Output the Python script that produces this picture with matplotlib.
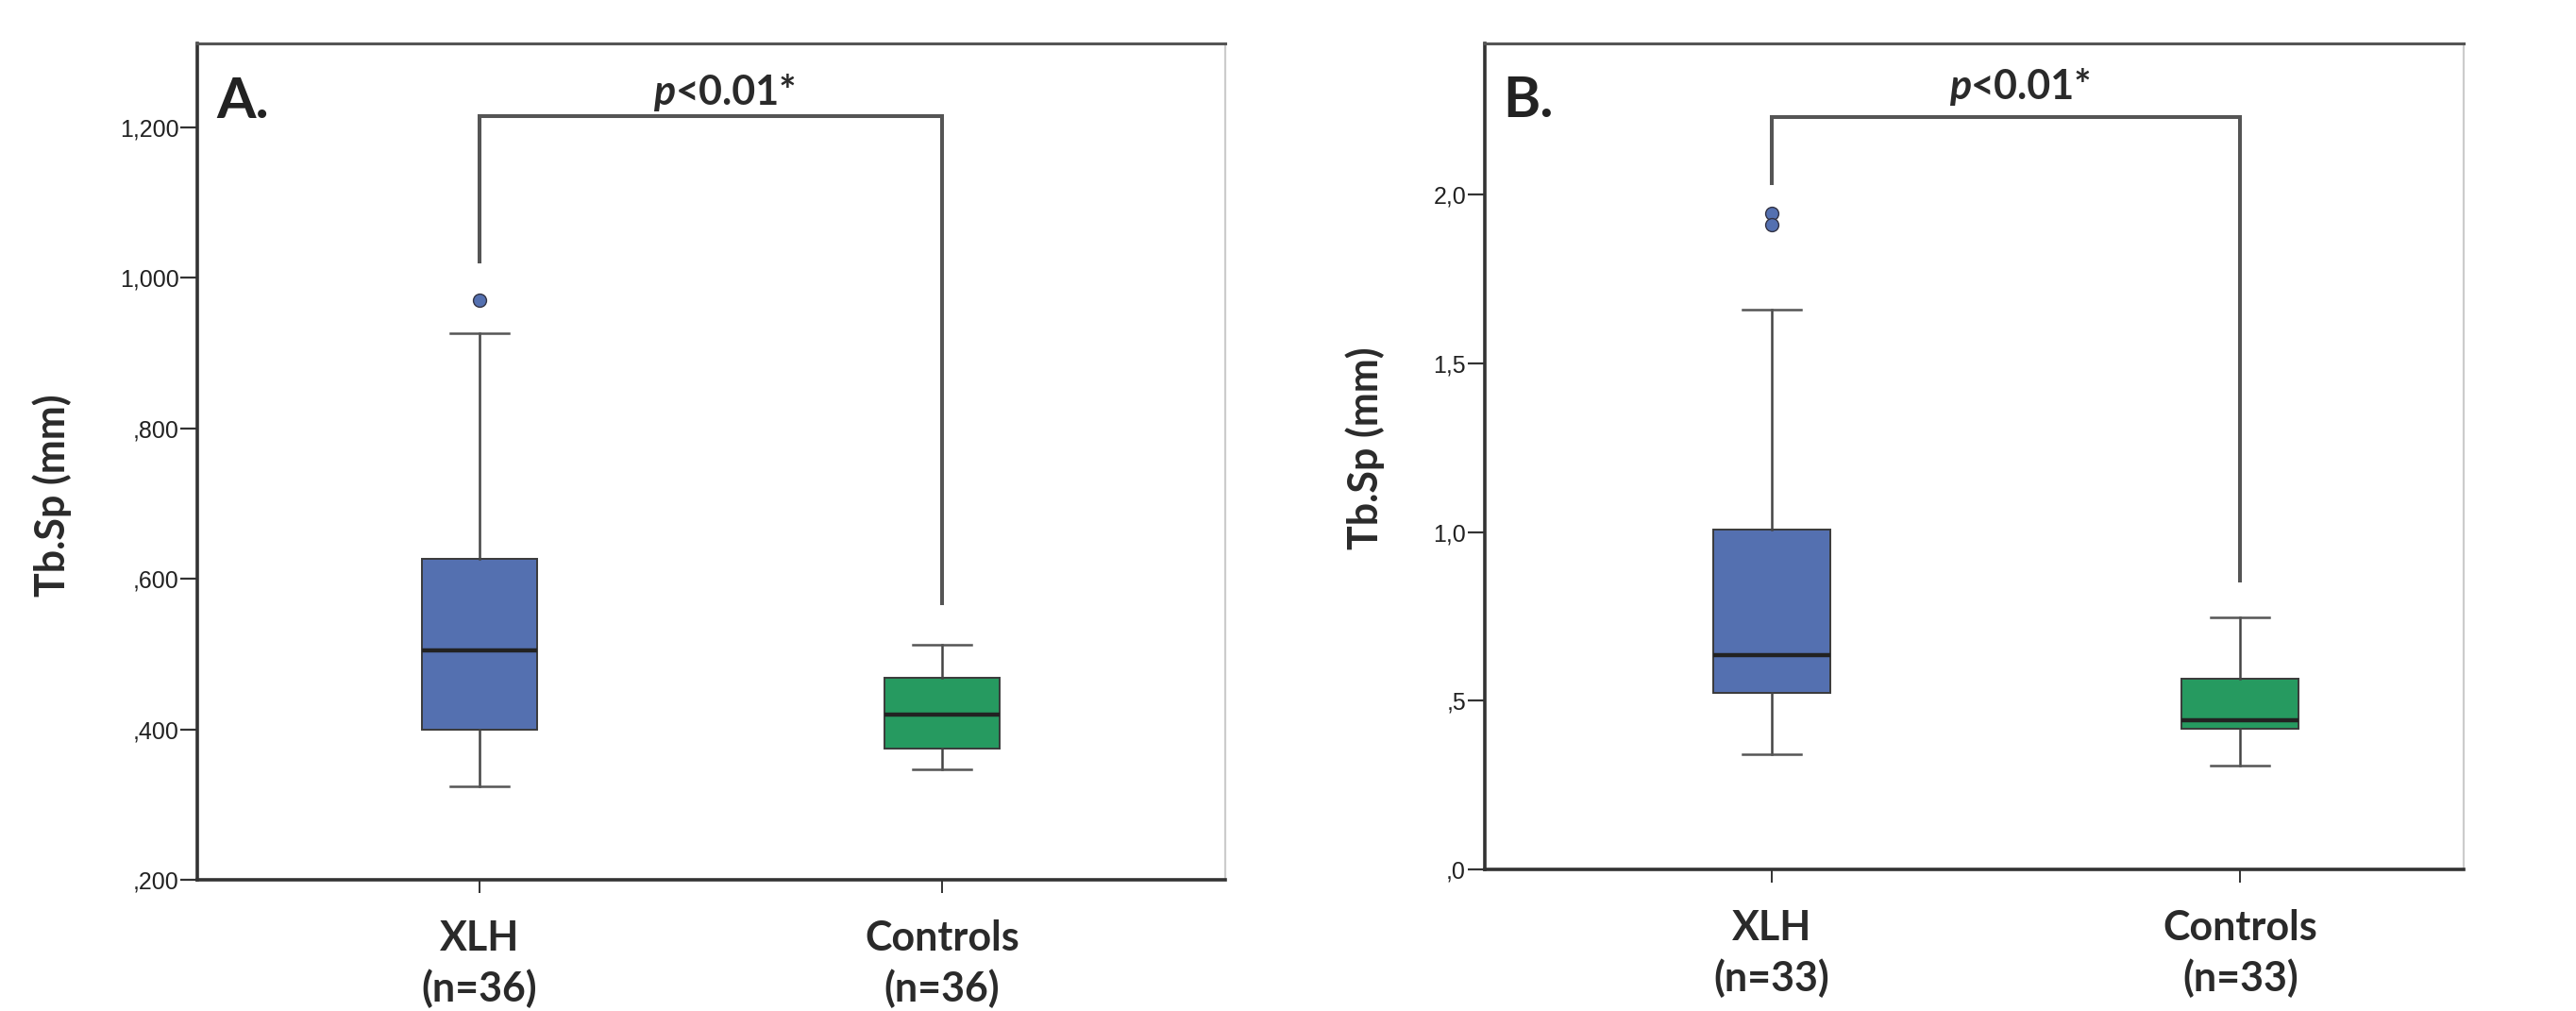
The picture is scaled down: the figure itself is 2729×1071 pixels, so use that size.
import matplotlib.pyplot as plt
from matplotlib.ticker import FixedLocator

# panel A: Tb.Sp (mm), values
groups_a = ["XLH\n(n=36)", "Controls\n(n=36)"]
q1_a = [0.399, 0.374]
med_a = [0.505, 0.420]
q3_a = [0.626, 0.469]
whislo_a = [0.324, 0.347]
whishi_a = [0.926, 0.513]
fliers_a = [[0.970], []]

# panel B
groups_b = ["XLH\n(n=33)", "Controls\n(n=33)"]
q1_b = [0.522, 0.416]
med_b = [0.634, 0.443]
q3_b = [1.008, 0.566]
whislo_b = [0.341, 0.309]
whishi_b = [1.659, 0.746]
fliers_b = [[1.945, 1.910], []]

yticks_a = [0.2, 0.4, 0.6, 0.8, 1.0, 1.2]
ytick_labels_a = [",200", ",400", ",600", ",800", "1,000", "1,200"]
yticks_b = [0.0, 0.5, 1.0, 1.5, 2.0]
ytick_labels_b = [",0", ",5", "1,0", "1,5", "2,0"]

box_colors = ["#5470b0", "#269a60"]
BOLD = "Lato"
TICKFONT = "Liberation Sans"


def stats(q1, med, q3, lo, hi, fl):
    return [dict(q1=q1[i], med=med[i], q3=q3[i], whislo=lo[i], whishi=hi[i], fliers=fl[i])
            for i in range(len(q1))]


def draw_panel(ax, st, labels, yticks, ylabels, ylim, xlim, bracket, p_pos, letter, ylab_pos):
    bp = ax.bxp(st, positions=[1, 2], widths=0.25, patch_artist=True, showfliers=True,
                boxprops=dict(edgecolor="#3a3a3a", linewidth=1.4),
                medianprops=dict(color="#222222", linewidth=3.2),
                whiskerprops=dict(color="#444444", linewidth=1.8),
                capprops=dict(color="#555555", linewidth=1.8),
                flierprops=dict(marker="o", markersize=10, markerfacecolor=box_colors[0],
                                markeredgecolor="#334", markeredgewidth=1.0))
    for patch, c in zip(bp["boxes"], box_colors):
        patch.set_facecolor(c)

    ax.set_xlim(*xlim)
    ax.set_ylim(*ylim)
    ax.yaxis.set_major_locator(FixedLocator(yticks))
    ax.set_yticklabels(ylabels, fontfamily=TICKFONT, fontsize=18, color="#222222")
    ax.set_xticks([1, 2])
    ax.set_xticklabels(labels, fontfamily=BOLD, fontweight="bold", fontsize=31,
                       color="#2a2a2a", linespacing=1.38)
    ax.tick_params(axis="y", length=13, width=1.6, color="#333333", pad=1)
    ax.tick_params(axis="x", length=10, width=1.4, color="#333333", pad=20)

    ax.spines["left"].set_color("#333333")
    ax.spines["left"].set_linewidth(2.6)
    ax.spines["bottom"].set_color("#333333")
    ax.spines["bottom"].set_linewidth(2.6)
    ax.spines["top"].set_color("#555555")
    ax.spines["top"].set_linewidth(2.2)
    ax.spines["right"].set_color("#cccccc")
    ax.spines["right"].set_linewidth(1.6)

    # significance bracket
    l_end, top, r_end = bracket
    ax.plot([1, 1, 2, 2], [l_end, top, top, r_end], color="#555555", linewidth=2.9,
            solid_joinstyle="miter", clip_on=False)
    px, py = p_pos
    t = ax.text(px, py, "p", fontfamily=BOLD, fontweight="bold", style="italic",
                fontsize=31, color="#2a2a2a", ha="left", va="baseline")
    ax.annotate("<0.01*", xy=(1, 0), xycoords=t, xytext=(0, 0), textcoords="offset points",
                fontfamily=BOLD, fontweight="bold", fontsize=31, color="#2a2a2a",
                ha="left", va="bottom")

    ax.text(0.019, 0.911, letter, transform=ax.transAxes, fontfamily=BOLD,
            fontweight="bold", fontsize=43, color="#222222", ha="left", va="baseline")
    ax.set_ylabel("Tb.Sp (mm)", fontfamily=BOLD, fontweight="bold", fontsize=31,
                  color="#2a2a2a")
    ax.yaxis.set_label_coords(*ylab_pos)


fig = plt.figure(figsize=(27.29, 10.71), dpi=100)
ax_a = fig.add_axes([0.07658, 0.12979, 0.39905, 0.82680])
ax_b = fig.add_axes([0.57622, 0.14006, 0.38018, 0.81653])

draw_panel(ax_a, stats(q1_a, med_a, q3_a, whislo_a, whishi_a, fliers_a), groups_a,
           yticks_a, ytick_labels_a, (0.2, 1.311), (0.3897, 2.6124),
           (1.022, 1.215, 0.567), (1.376, 1.230), "A.", (-0.122, 0.46))
draw_panel(ax_b, stats(q1_b, med_b, q3_b, whislo_b, whishi_b, fliers_b), groups_b,
           yticks_b, ytick_labels_b, (0.0, 2.447), (0.3866, 2.477),
           (2.035, 2.231, 0.856), (1.379, 2.283), "B.", (-0.1017, 0.51))

fig.savefig("out.png", dpi=100, facecolor="white")
